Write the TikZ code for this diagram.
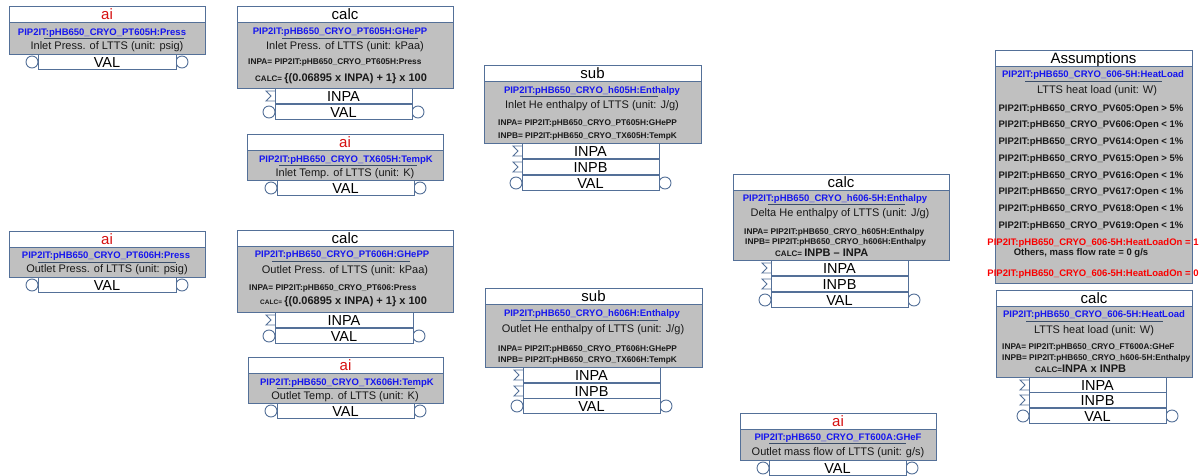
\documentclass[tikz,border=0pt]{standalone}
\usepackage{fontspec}
\setmainfont{Liberation Sans}
\usepackage{tikz}
\usetikzlibrary{positioning}
\definecolor{frameblue}{RGB}{84,112,152}
\definecolor{panel}{RGB}{192,192,192}
\definecolor{aired}{RGB}{214,16,16}
\definecolor{tagblue}{RGB}{22,22,238}
\definecolor{alertred}{RGB}{250,0,0}
\newcommand{\fbhead}[7]{%
  \draw[frame,fill=white] (#2,#3) rectangle (#4,#3+16);
  \draw[frame,fill=panel] (#2,#3+16) rectangle (#4,#5);
  \node[#7] (#1-title) at ({(#2+#4)/2},#3+8) {#6};}
\newcommand{\inrow}[5]{%
  \draw[frame] (#2,#3+3) -- (#2-9,#3+3) -- (#2-4,#3+8) -- (#2-9,#3+13) -- (#2,#3+13);
  \draw[frame,fill=white] (#2,#3) rectangle (#4,#3+15.5);
  \node[rowtext] (#1) at ({(#2+#4)/2},#3+8) {#5};}
\newcommand{\valrow}[4]{%
  \node[port] (#1-l) at (#2-6,#3+8) {};
  \node[port] (#1-r) at (#4+6,#3+8) {};
  \draw[frame,fill=white] (#2,#3) rectangle (#4,#3+15.5);
  \node[rowtext] (#1) at ({(#2+#4)/2},#3+8) {VAL};}

\begin{document}
\begin{tikzpicture}
	[x=1pt,y=-1pt,
	 frame/.style={draw=frameblue,line width=0.9pt},
	 title/.style={font=\fontsize{15}{15}\selectfont,text height=10.7pt,text depth=0pt,inner sep=0pt},
	 aititle/.style={title,text=aired},
	 tag/.style={font=\bfseries\fontsize{9.5}{10}\selectfont,text=tagblue,text height=6.8pt,text depth=0pt,inner sep=0pt},
	 uline/.style={draw=frameblue!70!black,line width=0.9pt},
	 desc/.style={font=\fontsize{11}{11}\selectfont,text=black!90,text height=7.9pt,text depth=0pt,inner sep=0pt},
	 inpline/.style={font=\bfseries\fontsize{8.3}{9}\selectfont,text=black!90,anchor=west,text height=6pt,text depth=0pt,inner sep=0pt},
	 calcline/.style={inpline,text height=7.9pt},
	 note/.style={font=\bfseries\fontsize{9.5}{10}\selectfont,text=black!90,text height=6.8pt,text depth=0pt,inner sep=0pt},
	 alert/.style={note,text=alertred},
	 rowtext/.style={font=\fontsize{14.5}{15}\selectfont,text height=10.4pt,text depth=0pt,inner sep=0pt},
	 port/.style={circle,draw=frameblue,line width=0.9pt,fill=white,minimum size=12pt,inner sep=0pt}]

	\useasboundingbox (0,0) rectangle (1204,476);

	% inlet pressure
	\fbhead{pin}{9}{6}{205}{54}{ai}{aititle}
	\node[tag] (pin-tag) at (102,32) {PIP2IT:pHB650\_CRYO\_PT605H:Press};
	\draw[uline] (44,38) -- (184,38);
	\node[desc] (pin-desc) at (107,46) {Inlet Press. of LTTS (unit: psig)};
	\valrow{pin-val}{38}{54}{176}

	\fbhead{pinc}{237}{6}{453}{88}{calc}{title}
	\node[tag] (pinc-tag) at (340,31) {PIP2IT:pHB650\_CRYO\_PT605H:GHePP};
	\draw[uline] (282,38) -- (418,38);
	\node[desc] (pinc-desc) at (345,46) {Inlet Press. of LTTS (unit: kPaa)};
	\node[inpline] (pinc-a) at (248,62) {INPA= PIP2IT:pHB650\_CRYO\_PT605H:Press};
	\node[calcline] (pinc-calc) at (255,78) {{\fontsize{8}{8}\selectfont CALC=} {\fontsize{11}{11}\selectfont\{(0.06895 x INPA) + 1\} x 100}};
	\inrow{pinc-inpa}{275}{88}{412}{INPA}
	\valrow{pinc-val}{275}{104}{412}

	% inlet temperature
	\fbhead{tin}{247}{134}{443}{180}{ai}{aititle}
	\node[tag] (tin-tag) at (346,159) {PIP2IT:pHB650\_CRYO\_TX605H:TempK};
	\draw[uline] (279,165) -- (417,165);
	\node[desc] (tin-desc) at (345,173) {Inlet Temp. of LTTS (unit: K)};
	\valrow{tin-val}{277}{180}{414}

	% inlet enthalpy
	\fbhead{hin}{484}{65}{701}{143}{sub}{title}
	\node[tag] (hin-tag) at (592,90) {PIP2IT:pHB650\_CRYO\_h605H:Enthalpy};
	\draw[uline] (520,96) -- (658,96);
	\node[desc] (hin-desc) at (592,105) {Inlet He enthalpy of LTTS (unit: J/g)};
	\node[inpline] (hin-a) at (498,123) {INPA= PIP2IT:pHB650\_CRYO\_PT605H:GHePP};
	\node[inpline] (hin-b) at (498,136) {INPB= PIP2IT:pHB650\_CRYO\_TX605H:TempK};
	\inrow{hin-inpa}{522}{143}{659}{INPA}
	\inrow{hin-inpb}{522}{159}{659}{INPB}
	\valrow{hin-val}{522}{175}{659}

	% delta enthalpy
	\fbhead{dh}{733}{174}{949}{260}{calc}{title}
	\node[tag] (dh-tag) at (835,198) {PIP2IT:pHB650\_CRYO\_h606-5H:Enthalpy};
	\draw[uline] (768,204) -- (905,204);
	\node[desc] (dh-desc) at (840,213) {Delta He enthalpy of LTTS (unit: J/g)};
	\node[inpline] (dh-a) at (744,231) {INPA= PIP2IT:pHB650\_CRYO\_h605H:Enthalpy};
	\node[inpline] (dh-b) at (745,241) {INPB= PIP2IT:pHB650\_CRYO\_h606H:Enthalpy};
	\node[calcline] (dh-calc) at (775,253) {{\fontsize{8}{8}\selectfont CALC=} {\fontsize{11}{11}\selectfont INPB -- INPA}};
	\inrow{dh-inpa}{771}{260}{908}{INPA}
	\inrow{dh-inpb}{771}{276}{908}{INPB}
	\valrow{dh-val}{771}{292}{908}

	% assumptions
	\fbhead{as}{995}{50}{1192}{283}{Assumptions}{title}
	\node[tag] (as-tag) at (1093,74) {PIP2IT:pHB650\_CRYO\_606-5H:HeatLoad};
	\draw[uline] (1025,81) -- (1162,81);
	\node[desc] (as-desc) at (1097,90) {LTTS heat load (unit: W)};
	\foreach \v/\c [count=\i] in {605/> 5\%,606/< 1\%,614/< 1\%,615/> 5\%,616/< 1\%,617/< 1\%,618/< 1\%,619/< 1\%}
		\node[note] (as-pv\v) at (1091,{91+16.75*\i}) {PIP2IT:pHB650\_CRYO\_PV\v:Open \c};
	\node[alert] (as-on) at (1093,242) {PIP2IT:pHB650\_CRYO\_606-5H:HeatLoadOn = 1};
	\node[note] (as-other) at (1081,252) {Others, mass flow rate = 0 g/s};
	\node[alert] (as-off) at (1093,273) {PIP2IT:pHB650\_CRYO\_606-5H:HeatLoadOn = 0};

	% heat load
	\fbhead{hl}{996}{290}{1192}{377}{calc}{title}
	\node[tag] (hl-tag) at (1094,314) {PIP2IT:pHB650\_CRYO\_606-5H:HeatLoad};
	\draw[uline] (1026,321) -- (1163,321);
	\node[desc] (hl-desc) at (1094,330) {LTTS heat load (unit: W)};
	\node[inpline] (hl-a) at (1002,346) {INPA= PIP2IT:pHB650\_CRYO\_FT600A:GHeF};
	\node[inpline] (hl-b) at (1002,357) {INPB= PIP2IT:pHB650\_CRYO\_h606-5H:Enthalpy};
	\node[calcline] (hl-calc) at (1035,369) {{\fontsize{8}{8}\selectfont CALC=}{\fontsize{11}{11}\selectfont INPA x INPB}};
	\inrow{hl-inpa}{1029}{377}{1166}{INPA}
	\inrow{hl-inpb}{1029}{392}{1166}{INPB}
	\valrow{hl-val}{1029}{408}{1166}

	% mass flow
	\fbhead{mf}{740}{413}{936}{460}{ai}{aititle}
	\node[tag] (mf-tag) at (838,437) {PIP2IT:pHB650\_CRYO\_FT600A:GHeF};
	\draw[uline] (769,443) -- (906,443);
	\node[desc] (mf-desc) at (838,452) {Outlet mass flow of LTTS (unit: g/s)};
	\valrow{mf-val}{769}{460}{906}

	% outlet pressure
	\fbhead{pout}{9}{231}{205}{277}{ai}{aititle}
	\node[tag] (pout-tag) at (106,255) {PIP2IT:pHB650\_CRYO\_PT606H:Press};
	\draw[uline] (38,262) -- (176,262);
	\node[desc] (pout-desc) at (107,269) {Outlet Press. of LTTS (unit: psig)};
	\valrow{pout-val}{38}{277}{176}

	\fbhead{poutc}{237}{230}{453}{312}{calc}{title}
	\node[tag] (poutc-tag) at (342,254) {PIP2IT:pHB650\_CRYO\_PT606H:GHePP};
	\draw[uline] (272,261) -- (410,261);
	\node[desc] (poutc-desc) at (345,270) {Outlet Press. of LTTS (unit: kPaa)};
	\node[inpline] (poutc-a) at (249,287) {INPA= PIP2IT:pHB650\_CRYO\_PT606:Press};
	\node[calcline] (poutc-calc) at (260,301) {{\fontsize{6.5}{7}\selectfont CALC=} {\fontsize{11}{11}\selectfont\{(0.06895 x INPA) + 1\} x 100}};
	\inrow{poutc-inpa}{275}{312}{413}{INPA}
	\valrow{poutc-val}{275}{328}{413}

	% outlet temperature
	\fbhead{tout}{248}{357}{443}{403}{ai}{aititle}
	\node[tag] (tout-tag) at (347,382) {PIP2IT:pHB650\_CRYO\_TX606H:TempK};
	\draw[uline] (277,388) -- (415,388);
	\node[desc] (tout-desc) at (345,396) {Outlet Temp. of LTTS (unit: K)};
	\valrow{tout-val}{277}{403}{414}

	% outlet enthalpy
	\fbhead{hout}{485}{288}{702}{367}{sub}{title}
	\node[tag] (hout-tag) at (592,313) {PIP2IT:pHB650\_CRYO\_h606H:Enthalpy};
	\draw[uline] (521,320) -- (658,320);
	\node[desc] (hout-desc) at (593,329) {Outlet He enthalpy of LTTS (unit: J/g)};
	\node[inpline] (hout-a) at (498,348) {INPA= PIP2IT:pHB650\_CRYO\_PT606H:GHePP};
	\node[inpline] (hout-b) at (498,359) {INPB= PIP2IT:pHB650\_CRYO\_TX606H:TempK};
	\inrow{hout-inpa}{523}{367}{660}{INPA}
	\inrow{hout-inpb}{523}{383}{660}{INPB}
	\valrow{hout-val}{523}{398}{660}
\end{tikzpicture}
\end{document}
